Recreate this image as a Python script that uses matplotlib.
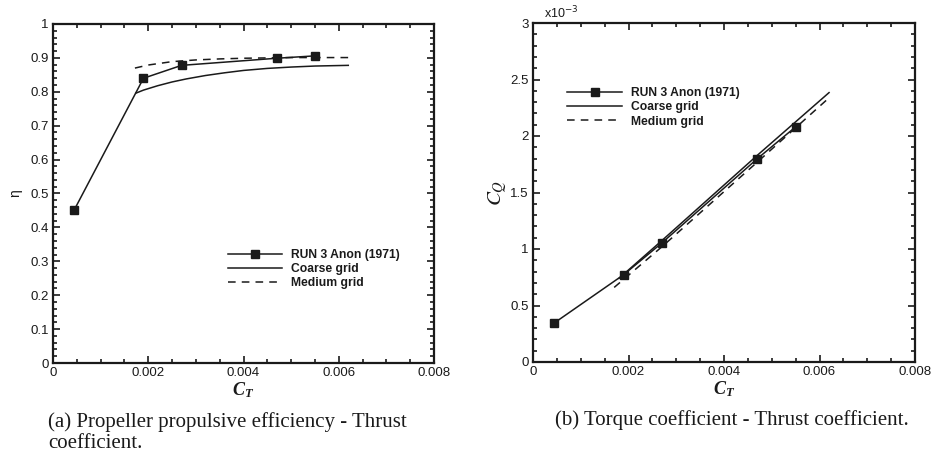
import matplotlib
matplotlib.use("Agg")
import matplotlib.pyplot as plt
from matplotlib.ticker import MultipleLocator, FormatStrFormatter

plt.rcParams['font.family'] = ['Liberation Sans', 'DejaVu Sans']
plt.rcParams['mathtext.fontset'] = 'custom'
plt.rcParams['mathtext.it'] = 'Liberation Serif:italic:bold'
plt.rcParams['mathtext.rm'] = 'Liberation Serif:bold'

# ---- data ----
ct_exp = [0.00044, 0.0019, 0.0027, 0.0047, 0.0055]
eta_exp = [0.45, 0.84, 0.878, 0.899, 0.906]
cq_exp = [0.344, 0.773, 1.054, 1.80, 2.081]          # x10^-3

ct_coarse_eta = [0.00174, 0.0019, 0.0022, 0.0025, 0.0028, 0.0032, 0.0036, 0.004, 0.0045, 0.005, 0.0055, 0.0062]
eta_coarse = [0.796, 0.805, 0.818, 0.829, 0.838, 0.848, 0.856, 0.863, 0.869, 0.873, 0.876, 0.878]
ct_medium_eta = [0.00172, 0.002, 0.0025, 0.003, 0.0035, 0.004, 0.005, 0.0062]
eta_medium = [0.870, 0.879, 0.889, 0.894, 0.897, 0.899, 0.901, 0.901]

ct_coarse_cq = [0.0018, 0.0027, 0.0047, 0.0062]
cq_coarse = [0.74, 1.075, 1.83, 2.384]
ct_medium_cq = [0.0017, 0.0027, 0.0047, 0.00615]
cq_medium = [0.66, 1.02, 1.77, 2.319]

labels = ["RUN 3 Anon (1971)", "Coarse grid", "Medium grid"]
xticks = [0, 0.002, 0.004, 0.006, 0.008]
xticklabels = ["0", "0.002", "0.004", "0.006", "0.008"]

W, H = 932, 455
fig = plt.figure(figsize=(W / 100, H / 100), dpi=100)
ink = '#1a1a1a'

def style(ax):
    ax.set_xlim(0, 0.008)
    ax.set_xticks(xticks)
    ax.set_xticklabels(xticklabels)
    ax.xaxis.set_minor_locator(MultipleLocator(0.0005))
    ax.tick_params(which='both', direction='in', top=True, right=True,
                   color=ink, width=1.2, labelsize=9.5, labelcolor=ink, pad=3)
    ax.tick_params(which='major', length=5)
    ax.tick_params(which='minor', length=3)
    for s in ax.spines.values():
        s.set_linewidth(1.6)
        s.set_color(ink)

def legend(ax, anchor):
    leg = ax.legend(loc='upper left', bbox_to_anchor=anchor, frameon=False,
                    prop={'weight': 'bold', 'size': 8.7}, handlelength=4.5,
                    handletextpad=0.75, labelspacing=0.17, borderpad=0, borderaxespad=0)
    for t in leg.get_texts():
        t.set_color(ink)
    return leg

lw = 1.1
ax1 = fig.add_axes([53 / W, 1 - 363 / H, 381 / W, 339 / H])
ax1.plot(ct_exp, eta_exp, '-', color=ink, lw=lw, marker='s', ms=5.5, label=labels[0])
ax1.plot(ct_coarse_eta, eta_coarse, '-', color=ink, lw=lw, label=labels[1])
ax1.plot(ct_medium_eta, eta_medium, '--', color=ink, lw=lw, dashes=(5, 4), label=labels[2])
style(ax1)
ax1.set_ylim(0, 1)
ax1.yaxis.set_major_locator(MultipleLocator(0.1))
ax1.yaxis.set_minor_locator(MultipleLocator(0.02))
ax1.yaxis.set_major_formatter(FormatStrFormatter('%g'))
ax1.set_ylabel("η", fontsize=10, color=ink, labelpad=6)
ax1.set_xlabel("$C_T$", fontsize=13, color=ink, labelpad=1)
legend(ax1, (0.459, 0.337))

ax2 = fig.add_axes([533 / W, 1 - 362 / H, 382 / W, 339 / H])
ax2.plot(ct_exp, cq_exp, '-', color=ink, lw=lw, marker='s', ms=5.5, label=labels[0])
ax2.plot(ct_coarse_cq, cq_coarse, '-', color=ink, lw=lw, label=labels[1])
ax2.plot(ct_medium_cq, cq_medium, '--', color=ink, lw=lw, dashes=(5, 4), label=labels[2])
style(ax2)
ax2.set_ylim(0, 3)
ax2.yaxis.set_major_locator(MultipleLocator(0.5))
ax2.yaxis.set_minor_locator(MultipleLocator(0.1))
ax2.yaxis.set_major_formatter(FormatStrFormatter('%g'))
ax2.set_ylabel("$C_Q$", fontsize=15, color=ink, labelpad=1, math_fontfamily='stix')
ax2.set_xlabel("$C_T$", fontsize=13, color=ink, labelpad=1)
ax2.text(0.03, 1.005, "x10$^{-3}$", transform=ax2.transAxes, fontsize=9,
         color=ink, ha='left', va='bottom', math_fontfamily='dejavusans')
legend(ax2, (0.09, 0.81))

cap = dict(fontsize=15, family='Liberation Serif', color=ink, va='center', ha='left')
fig.text(48 / W, 1 - 422 / H, "(a) Propeller propulsive efficiency - Thrust", **cap)
fig.text(48 / W, 1 - 443 / H, "coefficient.", **cap)
fig.text(555 / W, 1 - 420 / H, "(b) Torque coefficient - Thrust coefficient.", **cap)

fig.savefig("out.png", dpi=100)
